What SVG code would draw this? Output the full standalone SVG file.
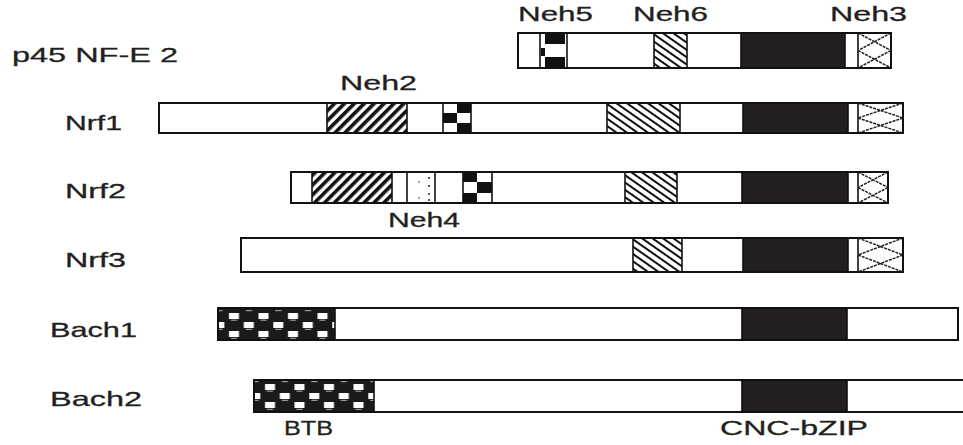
<svg xmlns="http://www.w3.org/2000/svg" width="963" height="445" viewBox="0 0 963 445">
<style>
text{font-family:"Liberation Sans",Arial,sans-serif;fill:#231f20;stroke:#231f20;stroke-width:0.3;}
.lbl{font-size:21px;}
.dom{font-size:20px;}
.bar{fill:#fff;stroke:#111;stroke-width:2;}
.seg{stroke:#111;stroke-width:1.6;}
.blk{fill:#231f20;stroke:#111;stroke-width:1.6;}
.fh{fill:url(#fwd);}
.bh{fill:url(#back);}
.cx{fill:#fff;}
.cl{stroke:#222;stroke-width:1.5;stroke-dasharray:3 1;fill:none;}
.ck{fill:#111;}
.dot{fill:#333;}
</style>
<defs>
<pattern id="fwd" patternUnits="userSpaceOnUse" width="7" height="7" patternTransform="rotate(-45)">
<rect width="7" height="7" fill="#fff"/>
<rect y="0" width="7" height="3.6" fill="#111"/>
</pattern>
<pattern id="back" patternUnits="userSpaceOnUse" width="6" height="6" patternTransform="rotate(35)">
<rect width="6" height="6" fill="#fff"/>
<rect y="0" width="6" height="2" fill="#111"/>
</pattern>
<pattern id="btb1" patternUnits="userSpaceOnUse" x="218" y="308" width="29.5" height="32">
<rect width="29.5" height="32" fill="#1a1a1a"/>
<g fill="#fff">
<rect x="11" y="5" width="10" height="6"/>
<rect x="-3.7" y="14" width="10" height="6"/>
<rect x="25.8" y="14" width="10" height="6"/>
<rect x="11" y="23" width="10" height="6"/>
</g>
<g fill="#999">
<rect x="-1.5" y="2" width="6" height="1.2"/>
<rect x="27.8" y="2" width="6" height="1.2"/>
<rect x="13" y="11.6" width="6" height="1.2"/>
<rect x="-1.5" y="20.8" width="6" height="1.2"/>
<rect x="27.8" y="20.8" width="6" height="1.2"/>
<rect x="13" y="29.8" width="6" height="1.2"/>
</g>
</pattern>
<pattern id="btb2" href="#btb1" x="254" y="379"/>
</defs>

<g id="labels">
<text class="lbl" x="12" y="62" textLength="166" lengthAdjust="spacingAndGlyphs">p45 NF-E 2</text>
<text class="lbl" x="65" y="130" textLength="57" lengthAdjust="spacingAndGlyphs">Nrf1</text>
<text class="lbl" x="65" y="198" textLength="61" lengthAdjust="spacingAndGlyphs">Nrf2</text>
<text class="lbl" x="65" y="267" textLength="61" lengthAdjust="spacingAndGlyphs">Nrf3</text>
<text class="lbl" x="50" y="337" textLength="87" lengthAdjust="spacingAndGlyphs">Bach1</text>
<text class="lbl" x="50" y="406" textLength="92" lengthAdjust="spacingAndGlyphs">Bach2</text>
</g>

<g id="domain-labels">
<text class="dom" x="518" y="21" textLength="75" lengthAdjust="spacingAndGlyphs">Neh5</text>
<text class="dom" x="633" y="21" textLength="75" lengthAdjust="spacingAndGlyphs">Neh6</text>
<text class="dom" x="830" y="21" textLength="77" lengthAdjust="spacingAndGlyphs">Neh3</text>
<text class="dom" x="340" y="90" textLength="77" lengthAdjust="spacingAndGlyphs">Neh2</text>
<text class="dom" x="388" y="227" textLength="72" lengthAdjust="spacingAndGlyphs">Neh4</text>
<text class="dom" x="284" y="435" textLength="49" lengthAdjust="spacingAndGlyphs">BTB</text>
<text class="dom" x="720" y="435" textLength="148" lengthAdjust="spacingAndGlyphs">CNC-bZIP</text>
</g>

<g id="p45">
<rect class="bar" x="518" y="33" width="373" height="35"/>
<rect class="seg" fill="#fff" x="540" y="33" width="27" height="35"/>
<rect class="ck" x="545" y="34" width="20" height="10"/>
<rect class="ck" x="545" y="57" width="20" height="10"/>
<rect class="ck" x="541" y="48" width="4" height="8"/>
<rect class="seg bh" x="654" y="33" width="33" height="35"/>
<rect class="blk" x="741" y="33" width="104" height="35"/>
<rect class="seg cx" x="858" y="33" width="33" height="35"/>
<path class="cl" d="M858 33 L891 50.5 M891 33 L858 50.5 M858 50.5 L891 68 M891 50.5 L858 68"/>
<rect x="518" y="33" width="373" height="35" fill="none" stroke="#111" stroke-width="2"/>
</g>

<g id="nrf1">
<rect class="bar" x="159" y="103" width="744" height="30"/>
<rect class="seg fh" x="327" y="103" width="80" height="30"/>
<rect class="seg" fill="#fff" x="443" y="103" width="28" height="30"/>
<rect class="ck" x="457" y="103" width="14" height="10"/>
<rect class="ck" x="443" y="113" width="14" height="10"/>
<rect class="ck" x="457" y="123" width="14" height="10"/>
<rect class="seg bh" x="607" y="103" width="73" height="30"/>
<rect class="blk" x="743" y="103" width="105" height="30"/>
<rect class="seg cx" x="858" y="103" width="45" height="30"/>
<path class="cl" d="M858 103 L903 118 M903 103 L858 118 M858 118 L903 133 M903 118 L858 133"/>
<rect x="159" y="103" width="744" height="30" fill="none" stroke="#111" stroke-width="2"/>
</g>

<g id="nrf2">
<rect class="bar" x="291" y="172" width="597" height="31"/>
<rect class="seg fh" x="312" y="172" width="80" height="31"/>
<rect class="seg" fill="#fff" x="407" y="172" width="28" height="31"/>
<circle class="dot" cx="429" cy="178" r="1.1"/>
<circle class="dot" cx="429" cy="186" r="1.1"/>
<circle class="dot" cx="429" cy="194" r="1.1"/>
<circle class="dot" cx="429" cy="200" r="1.1"/>
<circle class="dot" cx="419" cy="182" r="0.8"/>
<circle class="dot" cx="419" cy="198" r="0.8"/>
<rect class="seg" fill="#fff" x="463" y="172" width="29" height="31"/>
<rect class="ck" x="463" y="172" width="14" height="10"/>
<rect class="ck" x="477" y="182" width="15" height="11"/>
<rect class="ck" x="463" y="193" width="14" height="10"/>
<rect class="seg bh" x="625" y="172" width="52" height="31"/>
<rect class="blk" x="742" y="172" width="106" height="31"/>
<rect class="seg cx" x="858" y="172" width="30" height="31"/>
<path class="cl" d="M858 172 L888 187.5 M888 172 L858 187.5 M858 187.5 L888 203 M888 187.5 L858 203"/>
<rect x="291" y="172" width="597" height="31" fill="none" stroke="#111" stroke-width="2"/>
</g>

<g id="nrf3">
<rect class="bar" x="241" y="238" width="662" height="34"/>
<rect class="seg bh" x="633" y="238" width="49" height="34"/>
<rect class="blk" x="743" y="238" width="105" height="34"/>
<rect class="seg cx" x="858" y="238" width="45" height="34"/>
<path class="cl" d="M858 238 L903 255 M903 238 L858 255 M858 255 L903 272 M903 255 L858 272"/>
<rect x="241" y="238" width="662" height="34" fill="none" stroke="#111" stroke-width="2"/>
</g>

<g id="bach1">
<rect class="bar" x="218" y="308" width="740" height="32"/>
<rect x="218" y="308" width="117" height="32" fill="url(#btb1)" stroke="#111" stroke-width="1.6"/>
<rect class="blk" x="742" y="308" width="105" height="32"/>
<rect x="218" y="308" width="740" height="32" fill="none" stroke="#111" stroke-width="2"/>
</g>

<g id="bach2">
<rect class="bar" x="254" y="380" width="715" height="32"/>
<rect x="254" y="380" width="120" height="32" fill="url(#btb2)" stroke="#111" stroke-width="1.6"/>
<rect class="blk" x="742" y="380" width="105" height="32"/>
<rect x="254" y="380" width="715" height="32" fill="none" stroke="#111" stroke-width="2"/>
</g>

<g id="connectors"/>
</svg>
